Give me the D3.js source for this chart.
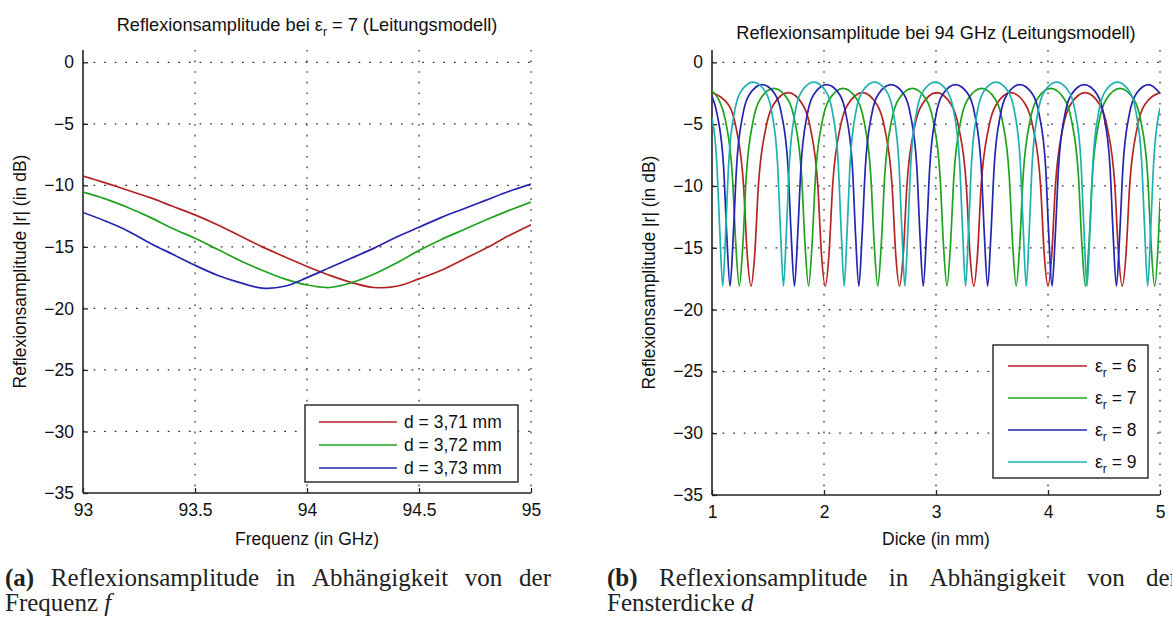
<!DOCTYPE html>
<html>
<head>
<meta charset="utf-8">
<script src="https://cdn.jsdelivr.net/npm/d3@7"></script>
<style>
  body { margin: 0; background: #fff; }
  svg { display: block; font-family: "Liberation Sans", Arial, sans-serif; }
</style>
</head>
<body>
<svg id="chart" width="1172" height="617"></svg>
<script>
// ---- data, panel (a): reflection vs frequency, er = 7
const freqGHz = [93.0, 93.1, 93.2, 93.3, 93.4, 93.5, 93.6, 93.7, 93.8, 93.9, 94.0,
                 94.1, 94.2, 94.3, 94.4, 94.5, 94.6, 94.7, 94.8, 94.9, 95.0]
const refl371 = [-9.25, -9.8, -10.4, -11.0, -11.7, -12.4, -13.2, -14.1, -15.0, -15.8, -16.6,
                 -17.3, -17.9, -18.3, -18.2, -17.6, -16.9, -16.0, -15.1, -14.1, -13.2]
const refl372 = [-10.55, -11.1, -11.8, -12.6, -13.5, -14.3, -15.2, -16.1, -16.9, -17.6, -18.1,
                 -18.3, -17.9, -17.2, -16.3, -15.3, -14.4, -13.6, -12.8, -12.05, -11.35]
const refl373 = [-12.2, -12.9, -13.7, -14.7, -15.6, -16.5, -17.3, -17.9, -18.35, -18.2, -17.5,
                 -16.7, -15.9, -15.1, -14.2, -13.4, -12.6, -11.9, -11.2, -10.5, -9.9]
const freqLegend = ["d = 3,71 mm", "d = 3,72 mm", "d = 3,73 mm"]
const freqTicks = [93, 93.5, 94, 94.5, 95]

// ---- data, panel (b): reflection vs thickness at 94 GHz, [d in mm, dB]
const er6 = [[1.000,-2.47],[1.149,-3.45],[1.215,-5.3],[1.282,-10.0],[1.315,-15.6],
  [1.348,-18.1],[1.381,-15.6],[1.414,-10.0],[1.481,-5.3],[1.547,-3.45],[1.680,-2.45],[1.812,-3.45],[1.878,-5.3],[1.945,-10.0],[1.978,-15.6],
  [2.011,-18.1],[2.044,-15.6],[2.077,-10.0],[2.144,-5.3],[2.210,-3.45],[2.343,-2.45],[2.475,-3.45],[2.541,-5.3],[2.608,-10.0],[2.641,-15.6],
  [2.674,-18.1],[2.707,-15.6],[2.740,-10.0],[2.807,-5.3],[2.873,-3.45],[3.006,-2.45],[3.138,-3.45],[3.204,-5.3],[3.271,-10.0],[3.304,-15.6],
  [3.337,-18.1],[3.370,-15.6],[3.403,-10.0],[3.470,-5.3],[3.536,-3.45],[3.669,-2.45],[3.801,-3.45],[3.867,-5.3],[3.934,-10.0],[3.967,-15.6],
  [4.000,-18.1],[4.033,-15.6],[4.066,-10.0],[4.133,-5.3],[4.199,-3.45],[4.332,-2.45],[4.464,-3.45],[4.530,-5.3],[4.597,-10.0],[4.630,-15.6],
  [4.663,-18.1],[4.696,-15.6],[4.729,-10.0],[4.796,-5.3],[4.862,-3.45],[5.000,-2.45]]
const er7 = [[1.000,-2.3],[1.059,-3.0],[1.120,-4.7],[1.182,-9.2],[1.213,-14.8],
  [1.244,-18.1],[1.275,-14.8],[1.306,-9.2],[1.368,-4.7],[1.429,-3.0],[1.553,-2.1],[1.677,-3.0],[1.738,-4.7],[1.800,-9.2],[1.831,-14.8],
  [1.862,-18.1],[1.893,-14.8],[1.924,-9.2],[1.986,-4.7],[2.047,-3.0],[2.171,-2.1],[2.295,-3.0],[2.356,-4.7],[2.418,-9.2],[2.449,-14.8],
  [2.480,-18.1],[2.511,-14.8],[2.542,-9.2],[2.604,-4.7],[2.665,-3.0],[2.789,-2.1],[2.913,-3.0],[2.974,-4.7],[3.036,-9.2],[3.067,-14.8],
  [3.098,-18.1],[3.129,-14.8],[3.160,-9.2],[3.222,-4.7],[3.283,-3.0],[3.407,-2.1],[3.531,-3.0],[3.592,-4.7],[3.654,-9.2],[3.685,-14.8],
  [3.716,-18.1],[3.747,-14.8],[3.778,-9.2],[3.840,-4.7],[3.901,-3.0],[4.025,-2.1],[4.149,-3.0],[4.210,-4.7],[4.272,-9.2],[4.303,-14.8],
  [4.334,-18.1],[4.365,-14.8],[4.396,-9.2],[4.458,-4.7],[4.519,-3.0],[4.643,-2.1],[4.767,-3.0],[4.828,-4.7],[4.890,-9.2],[4.921,-14.8],
  [4.952,-18.1],[4.983,-14.8],[5.000,-11.2]]
const er8 = [[1.000,-2.75],[1.046,-4.2],[1.104,-8.5],[1.132,-14.0],
  [1.161,-18.1],[1.190,-14.0],[1.219,-8.5],[1.276,-4.2],[1.334,-2.6],[1.449,-1.8],[1.564,-2.6],[1.621,-4.2],[1.679,-8.5],[1.707,-14.0],
  [1.736,-18.1],[1.765,-14.0],[1.794,-8.5],[1.851,-4.2],[1.909,-2.6],[2.024,-1.8],[2.139,-2.6],[2.196,-4.2],[2.254,-8.5],[2.282,-14.0],
  [2.311,-18.1],[2.340,-14.0],[2.369,-8.5],[2.426,-4.2],[2.484,-2.6],[2.599,-1.8],[2.714,-2.6],[2.771,-4.2],[2.829,-8.5],[2.857,-14.0],
  [2.886,-18.1],[2.915,-14.0],[2.944,-8.5],[3.001,-4.2],[3.059,-2.6],[3.174,-1.8],[3.289,-2.6],[3.346,-4.2],[3.404,-8.5],[3.432,-14.0],
  [3.461,-18.1],[3.490,-14.0],[3.519,-8.5],[3.576,-4.2],[3.634,-2.6],[3.749,-1.8],[3.864,-2.6],[3.921,-4.2],[3.979,-8.5],[4.007,-14.0],
  [4.036,-18.1],[4.065,-14.0],[4.094,-8.5],[4.151,-4.2],[4.209,-2.6],[4.324,-1.8],[4.439,-2.6],[4.496,-4.2],[4.554,-8.5],[4.582,-14.0],
  [4.611,-18.1],[4.640,-14.0],[4.669,-8.5],[4.726,-4.2],[4.784,-2.6],[4.899,-1.8],[5.000,-2.5]]
const er9 = [[1.000,-4.5],[1.042,-8.0],[1.069,-13.5],
  [1.096,-18.1],[1.123,-13.5],[1.150,-8.0],[1.204,-3.85],[1.259,-2.35],[1.367,-1.6],[1.475,-2.35],[1.530,-3.85],[1.584,-8.0],[1.611,-13.5],
  [1.638,-18.1],[1.665,-13.5],[1.692,-8.0],[1.746,-3.85],[1.801,-2.35],[1.909,-1.6],[2.017,-2.35],[2.072,-3.85],[2.126,-8.0],[2.153,-13.5],
  [2.180,-18.1],[2.207,-13.5],[2.234,-8.0],[2.288,-3.85],[2.343,-2.35],[2.451,-1.6],[2.559,-2.35],[2.614,-3.85],[2.668,-8.0],[2.695,-13.5],
  [2.722,-18.1],[2.749,-13.5],[2.776,-8.0],[2.830,-3.85],[2.885,-2.35],[2.993,-1.6],[3.101,-2.35],[3.156,-3.85],[3.210,-8.0],[3.237,-13.5],
  [3.264,-18.1],[3.291,-13.5],[3.318,-8.0],[3.372,-3.85],[3.427,-2.35],[3.535,-1.6],[3.643,-2.35],[3.698,-3.85],[3.752,-8.0],[3.779,-13.5],
  [3.806,-18.1],[3.833,-13.5],[3.860,-8.0],[3.914,-3.85],[3.969,-2.35],[4.077,-1.6],[4.185,-2.35],[4.240,-3.85],[4.294,-8.0],[4.321,-13.5],
  [4.348,-18.1],[4.375,-13.5],[4.402,-8.0],[4.456,-3.85],[4.511,-2.35],[4.619,-1.6],[4.727,-2.35],[4.782,-3.85],[4.836,-8.0],[4.863,-13.5],
  [4.890,-18.1],[4.917,-13.5],[4.944,-8.0],[5.000,-3.7]]
const erLegend = ["6", "7", "8", "9"]
const dickeTicks = [1, 2, 3, 4, 5]

const dbTicks = [0, -5, -10, -15, -20, -25, -30, -35]
const colors = ["#b52424", "#1fa31f", "#2424b0", "#1fb0b0"]

const svg = d3.select("#chart")
const fontSize = 17.5
const minus = (v) => (v < 0 ? "\u2212" + Math.abs(v) : String(v))

function drawPanel(p) {
  const x = d3.scaleLinear().domain(p.xDomain).range([p.left, p.right])
  const y = d3.scaleLinear().domain([-35, 1]).range([p.bottom, 50])
  const g = svg.append("g")

  // grid
  g.selectAll(".hgrid").data(dbTicks.filter((d) => d > -35)).enter().append("line")
    .attr("x1", p.left).attr("x2", p.right)
    .attr("y1", (d) => y(d)).attr("y2", (d) => y(d))
    .attr("stroke", "#222").attr("stroke-dasharray", "1.6,9").attr("stroke-width", 1.2)
  g.selectAll(".vgrid").data(p.ticks.slice(1)).enter().append("line")
    .attr("x1", (d) => x(d)).attr("x2", (d) => x(d))
    .attr("y1", 50).attr("y2", p.bottom)
    .attr("stroke", "#222").attr("stroke-dasharray", "1.6,9").attr("stroke-width", 1.2)

  // axes
  const yAxis = d3.axisLeft(y).tickValues(dbTicks).tickSize(-5).tickPadding(9).tickFormat(minus)
  const xAxis = d3.axisBottom(x).tickValues(p.ticks).tickSize(-5).tickPadding(11).tickFormat((d) => d)
  const gy = g.append("g").attr("transform", `translate(${p.left},0)`).call(yAxis)
  const gx = g.append("g").attr("transform", `translate(0,${p.bottom})`).call(xAxis)
  for (const ax of [gx, gy]) {
    ax.select(".domain").remove()
    ax.selectAll("line").attr("stroke", "#222").attr("stroke-width", 1.3)
    ax.selectAll("text").attr("font-size", fontSize).attr("fill", "#111")
      .attr("font-family", "Liberation Sans, Arial, sans-serif")
  }
  g.append("line").attr("x1", p.left).attr("x2", p.left).attr("y1", 50).attr("y2", p.bottom)
    .attr("stroke", "#222").attr("stroke-width", 1.6)
  g.append("line").attr("x1", p.left).attr("x2", p.right).attr("y1", p.bottom).attr("y2", p.bottom)
    .attr("stroke", "#222").attr("stroke-width", 1.6)

  // curves
  const clipId = "clip" + p.id
  svg.append("clipPath").attr("id", clipId).append("rect")
    .attr("x", p.left).attr("y", 50).attr("width", p.right - p.left).attr("height", p.bottom - 50)
  const line = d3.line().x((d) => x(d[0])).y((d) => y(d[1])).curve(p.curve)
  g.append("g").attr("clip-path", `url(#${clipId})`)
    .selectAll("path").data(p.series).enter().append("path")
    .attr("d", (d) => line(d))
    .attr("fill", "none")
    .attr("stroke", (d, i) => colors[i])
    .attr("stroke-width", 1.7)

  // title
  const t = g.append("text").attr("x", (p.left + p.right) / 2).attr("y", p.titleY)
    .attr("text-anchor", "middle").attr("font-size", 18.2).attr("fill", "#111")
  p.title(t)

  // axis labels
  g.append("text").attr("x", (p.left + p.right) / 2).attr("y", 545)
    .attr("text-anchor", "middle").attr("font-size", fontSize).attr("fill", "#111").text(p.xLabel)
  g.append("text").attr("transform", `translate(${p.left - 57},${(50 + p.bottom) / 2 + 0}) rotate(-90)`)
    .attr("text-anchor", "middle").attr("font-size", fontSize).attr("fill", "#111")
    .text("Reflexionsamplitude |r| (in dB)")

  // legend
  const L = p.legend
  g.append("rect").attr("x", L.x).attr("y", L.y).attr("width", L.w).attr("height", L.h)
    .attr("fill", "#fff").attr("stroke", "#222").attr("stroke-width", 1.4)
  const items = g.selectAll(".legend_item").data(p.series).enter().append("g")
    .attr("transform", (d, i) => `translate(0,${L.y + L.first + i * L.step})`)
  items.append("line").attr("x1", L.lx1).attr("x2", L.lx2)
    .attr("stroke", (d, i) => colors[i]).attr("stroke-width", 1.7)
  items.append("text").attr("x", L.tx).attr("y", 6).attr("font-size", fontSize).attr("fill", "#111")
    .each(function (d, i) { L.label(d3.select(this), i) })
}

drawPanel({
  id: "a", xDomain: [93, 95], left: 83, right: 531, bottom: 493, ticks: freqTicks,
  series: [refl371, refl372, refl373].map((s) => s.map((v, i) => [freqGHz[i], v])),
  curve: d3.curveCatmullRom,
  titleY: 31, xLabel: "Frequenz (in GHz)",
  title: (t) => {
    t.append("tspan").text("Reflexionsamplitude bei \u03b5")
    t.append("tspan").attr("dy", 5).attr("font-size", 12).text("r")
    t.append("tspan").attr("dy", -5).text(" = 7  (Leitungsmodell)")
  },
  legend: { x: 305, y: 405, w: 213, h: 77, first: 17, step: 23, lx1: 319, lx2: 397, tx: 404,
    label: (t, i) => t.text(freqLegend[i]) },
})

drawPanel({
  id: "b", xDomain: [1, 5], left: 712, right: 1160, bottom: 495, ticks: dickeTicks,
  series: [er6, er7, er8, er9],
  curve: d3.curveMonotoneX,
  titleY: 39, xLabel: "Dicke (in mm)",
  title: (t) => t.text("Reflexionsamplitude bei 94 GHz (Leitungsmodell)"),
  legend: { x: 993, y: 345, w: 155, h: 133, first: 21, step: 32, lx1: 1008, lx2: 1087, tx: 1095,
    label: (t, i) => {
      t.append("tspan").text("\u03b5")
      t.append("tspan").attr("dy", 5).attr("font-size", 12).text("r")
      t.append("tspan").attr("dy", -5).text(" = " + erLegend[i])
    } },
})

// ---- captions (justified first line)
function caption(x0, x1, words, line2, ital) {
  const g = svg.append("g").attr("font-family", "Liberation Serif, Times New Roman, serif")
    .attr("font-size", 25).attr("fill", "#222")
  const t = g.append("text").attr("y", 586)
  const spans = words.map((w, i) => t.append("tspan").attr("font-weight", i === 0 ? "bold" : null).text(w))
  const widths = spans.map((s) => s.node().getComputedTextLength())
  const gap = (x1 - x0 - d3.sum(widths)) / (words.length - 1)
  let cx = x0
  spans.forEach((s, i) => { s.attr("x", cx); cx += widths[i] + gap })
  const t2 = g.append("text").attr("x", x0).attr("y", 611)
  t2.append("tspan").text(line2 + " ")
  t2.append("tspan").attr("font-style", "italic").text(ital)
}
caption(5, 551, ["(a)", "Reflexionsamplitude", "in", "Abhängigkeit", "von", "der"], "Frequenz", "f")
caption(607, 1178, ["(b)", "Reflexionsamplitude", "in", "Abhängigkeit", "von", "der"], "Fensterdicke", "d")
</script>
</body>
</html>
